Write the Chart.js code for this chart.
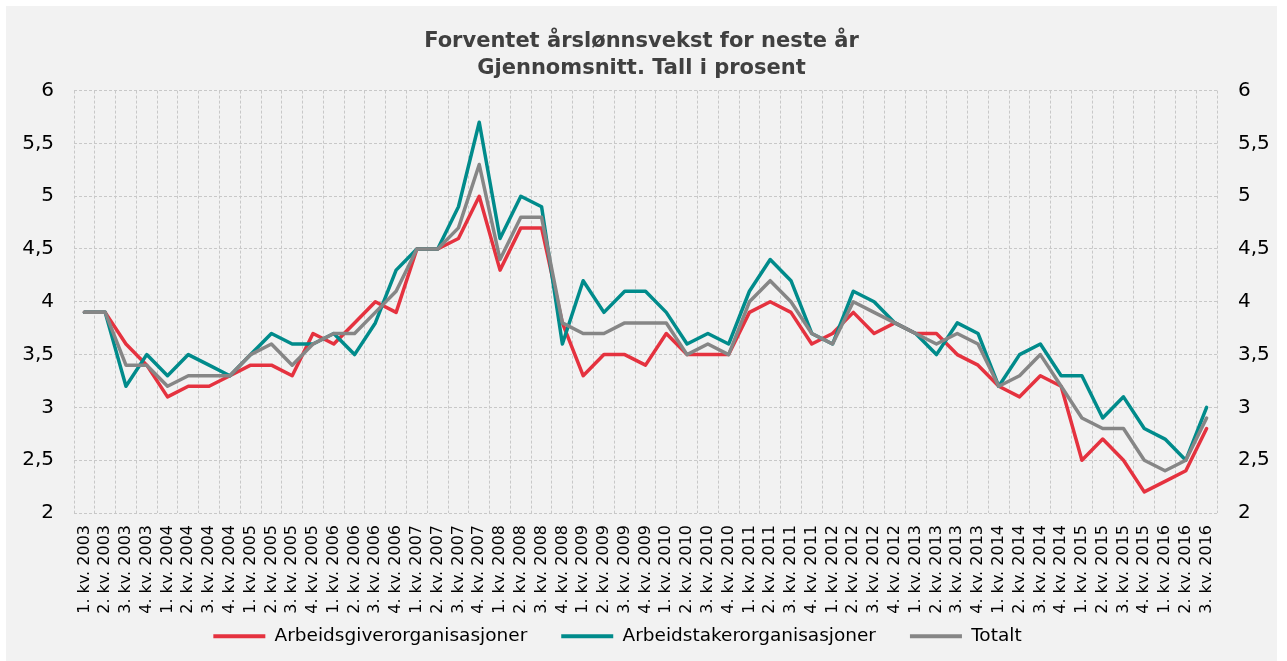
<!DOCTYPE html>
<html>
<head>
<meta charset="utf-8">
<script src="https://cdn.jsdelivr.net/npm/chart.js@4.4.1/dist/chart.umd.min.js"></script>
<style>
html,body{margin:0;padding:0;background:#ffffff;}
#wrap{position:absolute;left:6px;top:6px;width:1271px;height:655px;background:#f2f2f2;}
</style>
</head>
<body>
<div id="wrap"><canvas id="c"></canvas></div>
<script>
const titleLines = ['Forventet årslønnsvekst for neste år', 'Gjennomsnitt. Tall i prosent'];

const categories = [
  '1. kv. 2003','2. kv. 2003','3. kv. 2003','4. kv. 2003',
  '1. kv. 2004','2. kv. 2004','3. kv. 2004','4. kv. 2004',
  '1. kv. 2005','2. kv. 2005','3. kv. 2005','4. kv. 2005',
  '1. kv. 2006','2. kv. 2006','3. kv. 2006','4. kv. 2006',
  '1. kv. 2007','2. kv. 2007','3. kv. 2007','4. kv. 2007',
  '1. kv. 2008','2. kv. 2008','3. kv. 2008','4. kv. 2008',
  '1. kv. 2009','2. kv. 2009','3. kv. 2009','4. kv. 2009',
  '1. kv. 2010','2. kv. 2010','3. kv. 2010','4. kv. 2010',
  '1. kv. 2011','2. kv. 2011','3. kv. 2011','4. kv. 2011',
  '1. kv. 2012','2. kv. 2012','3. kv. 2012','4. kv. 2012',
  '1. kv. 2013','2. kv. 2013','3. kv. 2013','4. kv. 2013',
  '1. kv. 2014','2. kv. 2014','3. kv. 2014','4. kv. 2014',
  '1. kv. 2015','2. kv. 2015','3. kv. 2015','4. kv. 2015',
  '1. kv. 2016','2. kv. 2016','3. kv. 2016'
];

const seriesNames = ['Arbeidsgiverorganisasjoner', 'Arbeidstakerorganisasjoner', 'Totalt'];

const arbeidsgiver = [
  3.9,3.9,3.6,3.4, 3.1,3.2,3.2,3.3, 3.4,3.4,3.3,3.7, 3.6,3.8,4.0,3.9,
  4.5,4.5,4.6,5.0, 4.3,4.7,4.7,3.8, 3.3,3.5,3.5,3.4, 3.7,3.5,3.5,3.5,
  3.9,4.0,3.9,3.6, 3.7,3.9,3.7,3.8, 3.7,3.7,3.5,3.4, 3.2,3.1,3.3,3.2,
  2.5,2.7,2.5,2.2, 2.3,2.4,2.8
];

const arbeidstaker = [
  3.9,3.9,3.2,3.5, 3.3,3.5,3.4,3.3, 3.5,3.7,3.6,3.6, 3.7,3.5,3.8,4.3,
  4.5,4.5,4.9,5.7, 4.6,5.0,4.9,3.6, 4.2,3.9,4.1,4.1, 3.9,3.6,3.7,3.6,
  4.1,4.4,4.2,3.7, 3.6,4.1,4.0,3.8, 3.7,3.5,3.8,3.7, 3.2,3.5,3.6,3.3,
  3.3,2.9,3.1,2.8, 2.7,2.5,3.0
];

const totalt = [
  3.9,3.9,3.4,3.4, 3.2,3.3,3.3,3.3, 3.5,3.6,3.4,3.6, 3.7,3.7,3.9,4.1,
  4.5,4.5,4.7,5.3, 4.4,4.8,4.8,3.8, 3.7,3.7,3.8,3.8, 3.8,3.5,3.6,3.5,
  4.0,4.2,4.0,3.7, 3.6,4.0,3.9,3.8, 3.7,3.6,3.7,3.6, 3.2,3.3,3.5,3.2,
  2.9,2.8,2.8,2.5, 2.4,2.5,2.9
];

const yTickValues = [2, 2.5, 3, 3.5, 4, 4.5, 5, 5.5, 6];
const yTickLabels = ['2', '2,5', '3', '3,5', '4', '4,5', '5', '5,5', '6'];

const colors = ['#e5323f', '#008b8b', '#868686'];

Chart.defaults.font.family = "'DejaVu Sans', Verdana, sans-serif";
Chart.defaults.color = '#000000';

function yLabel(value) {
  const idx = yTickValues.findIndex(v => Math.abs(v - value) < 1e-6);
  return idx >= 0 ? yTickLabels[idx] : '';
}

const legendShift = {
  id: 'legendShift',
  afterLayout(chart) {
    const l = chart.legend;
    if (l) {
      l.left -= 24; l.right -= 24;
      l.top -= 24; l.height += 24;
    }
  }
};

const gridColor = '#c8c8c8';

new Chart(document.getElementById('c'), {
  type: 'line',
  data: {
    labels: categories,
    datasets: [
      { label: seriesNames[0], data: arbeidsgiver, borderColor: colors[0], backgroundColor: colors[0], order: 3 },
      { label: seriesNames[1], data: arbeidstaker, borderColor: colors[1], backgroundColor: colors[1], order: 2 },
      { label: seriesNames[2], data: totalt, borderColor: colors[2], backgroundColor: colors[2], order: 1 }
    ]
  },
  options: {
    responsive: true,
    maintainAspectRatio: false,
    animation: false,
    layout: { padding: { left: 0, right: 0, top: 0, bottom: 6 } },
    elements: {
      line: { borderWidth: 3.5, tension: 0, borderJoinStyle: 'round', borderCapStyle: 'round', fill: false },
      point: { radius: 0, hoverRadius: 0 }
    },
    plugins: {
      title: {
        display: true,
        text: titleLines,
        color: '#404040',
        font: { size: 21, weight: 'bold', lineHeight: 1.3 },
        padding: { top: 22, bottom: 8 }
      },
      legend: {
        position: 'bottom',
        maxHeight: 38,
        labels: {
          boxWidth: 52,
          boxHeight: 4,
          padding: 34,
          color: '#000000',
          font: { size: 18.5 },
          sort: (a, b) => a.datasetIndex - b.datasetIndex,
          generateLabels(chart) {
            const items = Chart.defaults.plugins.legend.labels.generateLabels(chart);
            return items.map(it => Object.assign({}, it, {
              fillStyle: chart.data.datasets[it.datasetIndex].borderColor,
              strokeStyle: 'rgba(0,0,0,0)',
              lineWidth: 0
            }));
          }
        }
      },
      tooltip: { enabled: false }
    },
    scales: {
      x: {
        type: 'category',
        offset: true,
        grid: { display: true, offset: true, color: gridColor, lineWidth: 1, drawTicks: false },
        border: { display: false, dash: [3, 2] },
        ticks: { autoSkip: false, minRotation: 90, maxRotation: 90, padding: 12, font: { size: 16 }, color: '#000000' },
        afterFit(scale) { scale.height = 104; }
      },
      y: {
        position: 'left',
        min: 2,
        max: 6,
        grid: { display: true, color: gridColor, lineWidth: 1, drawTicks: false },
        border: { display: false, dash: [3, 2] },
        ticks: { stepSize: 0.5, padding: 20, font: { size: 20 }, color: '#000000', callback: v => yLabel(v) },
        afterFit(scale) { scale.width = 68; }
      },
      y2: {
        position: 'right',
        min: 2,
        max: 6,
        grid: { display: false, drawTicks: false },
        border: { display: false },
        ticks: { stepSize: 0.5, padding: 21, font: { size: 20 }, color: '#000000', callback: v => yLabel(v) },
        afterFit(scale) { scale.width = 60; }
      }
    }
  },
  plugins: [legendShift]
});
</script>
</body>
</html>
